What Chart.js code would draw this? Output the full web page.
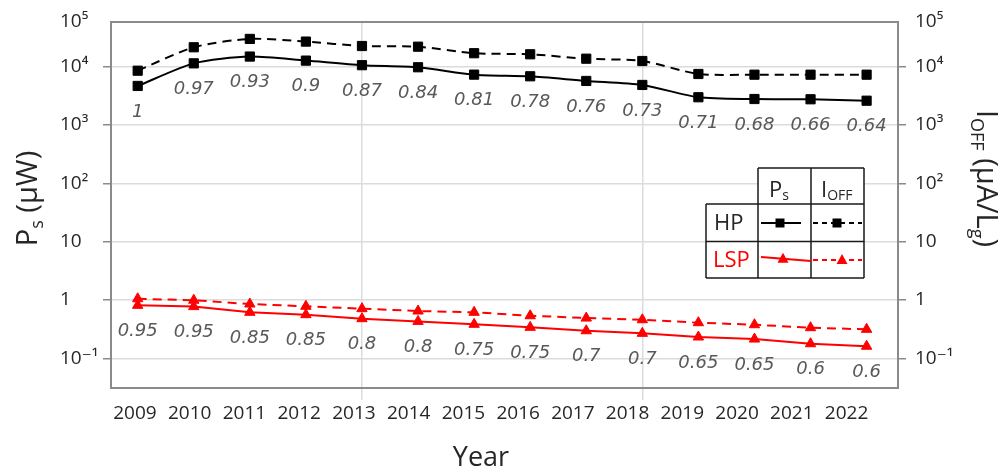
<!DOCTYPE html>
<html>
<head>
<meta charset="utf-8">
<script src="https://cdn.jsdelivr.net/npm/chart.js@4.4.1/dist/chart.umd.min.js"></script>
<style>body{margin:0;background:#fff}</style>
</head>
<body>
<canvas id="c" width="1000" height="474"></canvas>
<script>
const years = [2009, 2010, 2011, 2012, 2013, 2014, 2015, 2016, 2017, 2018, 2019, 2020, 2021, 2022]
const hpPs = [4670, 11400, 14900, 12700, 10600, 9770, 7300, 6840, 5690, 4860, 2990, 2790, 2760, 2610]
const hpIoff = [8530, 21500, 29900, 26900, 22600, 22000, 17000, 16300, 13700, 12500, 7490, 7290, 7290, 7290]
const lspPs = [0.81, 0.77, 0.615, 0.56, 0.478, 0.43, 0.383, 0.34, 0.297, 0.268, 0.232, 0.214, 0.178, 0.161]
const lspIoff = [1.05, 0.99, 0.853, 0.78, 0.71, 0.647, 0.615, 0.537, 0.49, 0.459, 0.408, 0.377, 0.335, 0.314]
const hpVdd = ['1', '0.97', '0.93', '0.9', '0.87', '0.84', '0.81', '0.78', '0.76', '0.73', '0.71', '0.68', '0.66', '0.64']
const lspVdd = ['0.95', '0.95', '0.85', '0.85', '0.8', '0.8', '0.75', '0.75', '0.7', '0.7', '0.65', '0.65', '0.6', '0.6']
const yTicks = [0.1, 1, 10, 100, 1000, 10000]
const yTickLabels = ['10⁻¹', '1', '10', '10²', '10³', '10⁴', '10⁵']

const yMin = 0.031, yMax = 58300
const gray = '#8a8a8a', grid = '#dcdcdc', txt = '#262626', red = '#ff0000'
const F = 'Open Sans, DejaVu Sans, sans-serif'

const pts = a => a.map((v, i) => ({x: i, y: v}))

// draws runs of text (with sub/superscripts) along a baseline
const runs = (ctx, list, align) => {
	const w = list.reduce((a, r) => { ctx.font = r.f; return a + ctx.measureText(r.t).width }, 0)
	let x = align == 'center' ? -w / 2 : 0
	list.forEach(r => { ctx.font = r.f; ctx.fillText(r.t, x, r.dy || 0); x += ctx.measureText(r.t).width })
}

const mark = (ctx, style, x, y, c) => {
	ctx.fillStyle = c
	ctx.beginPath()
	if (style == 'rect') ctx.rect(x - 4.5, y - 4.5, 9, 9)
	else { ctx.moveTo(x, y - 6); ctx.lineTo(x + 5.5, y + 4); ctx.lineTo(x - 5.5, y + 4); ctx.closePath() }
	ctx.fill()
}

const extras = {
	id: 'extras',
	beforeDatasetsDraw(chart) {
		const {ctx, chartArea: a} = chart
		ctx.save()
		ctx.strokeStyle = gray; ctx.lineWidth = 2
		ctx.strokeRect(a.left, a.top, a.right - a.left, a.bottom - a.top)
		ctx.restore()
	},
	afterDatasetsDraw(chart) {
		const {ctx} = chart
		ctx.save()
		// Vdd labels under the Ps points
		ctx.font = 'italic 18px DejaVu Sans'
		ctx.fillStyle = '#595959'
		ctx.textAlign = 'center'; ctx.textBaseline = 'middle'
		;[[0, hpVdd], [2, lspVdd]].forEach(([d, lab]) => {
			chart.getDatasetMeta(d).data.forEach((p, i) => ctx.fillText(lab[i], p.x, p.y + 26))
		})

		// legend table
		ctx.fillStyle = '#fff'
		ctx.fillRect(758, 168, 106, 36)
		ctx.fillRect(706, 204, 158, 74)
		ctx.strokeStyle = '#1a1a1a'; ctx.lineWidth = 1.5
		ctx.beginPath()
		;[[758, 168, 864, 168], [706, 204, 864, 204], [706, 241.5, 864, 241.5], [706, 278, 864, 278],
		 [706, 204, 706, 278], [758, 168, 758, 278], [811, 168, 811, 278], [864, 168, 864, 278]]
			.forEach(([x1, y1, x2, y2]) => { ctx.moveTo(x1, y1); ctx.lineTo(x2, y2) })
		ctx.stroke()

		ctx.textAlign = 'left'; ctx.textBaseline = 'alphabetic'
		ctx.fillStyle = txt
		ctx.save(); ctx.translate(769, 197)
		runs(ctx, [{t: 'P', f: `22px ${F}`}, {t: 's', f: `14px ${F}`, dy: 3}])
		ctx.restore()
		ctx.save(); ctx.translate(821, 197)
		runs(ctx, [{t: 'I', f: `22px ${F}`}, {t: 'OFF', f: `14px ${F}`, dy: 3}])
		ctx.restore()
		ctx.font = `22px ${F}`
		ctx.textBaseline = 'middle'
		ctx.fillText('HP', 714, 224)
		ctx.fillStyle = red
		ctx.fillText('LSP', 713, 261)

		const sample = (x1, x2, y1, y2, mx, ds) => {
			const o = chart.data.datasets[ds]
			ctx.strokeStyle = o.borderColor; ctx.lineWidth = 2
			ctx.setLineDash(o.borderDash ? [5, 4] : [])
			ctx.beginPath(); ctx.moveTo(x1, y1); ctx.lineTo(x2, y2); ctx.stroke()
			ctx.setLineDash([])
			mark(ctx, o.pointStyle, mx, y1 + (y2 - y1) * (mx - x1) / (x2 - x1), o.borderColor)
		}
		sample(761, 801, 223, 223, 780, 0)
		sample(813, 862, 223, 223, 837, 1)
		sample(761, 811, 257, 261, 783, 2)
		sample(813, 862, 260, 260, 842, 3)

		// axis titles
		ctx.fillStyle = txt
		ctx.textBaseline = 'alphabetic'
		ctx.save(); ctx.translate(37, 198.5); ctx.rotate(-Math.PI / 2)
		runs(ctx, [{t: 'P', f: `29px ${F}`}, {t: 's', f: `18px ${F}`, dy: 6}, {t: ' (μW)', f: `29px ${F}`}], 'center')
		ctx.restore()
		ctx.save(); ctx.translate(977, 178.5); ctx.rotate(Math.PI / 2)
		runs(ctx, [{t: 'I', f: `29px ${F}`}, {t: 'OFF', f: `18px ${F}`, dy: 6}, {t: ' (μA/L', f: `29px ${F}`},
			{t: 'g', f: `18px ${F}`, dy: 6}, {t: ')', f: `29px ${F}`}], 'center')
		ctx.restore()
		ctx.textAlign = 'center'
		ctx.font = `27px ${F}`
		ctx.fillText('Year', 481, 466)
		ctx.restore()
	}
}

const yAxis = (pos, w) => ({
	type: 'logarithmic',
	position: pos,
	min: yMin, max: yMax,
	afterBuildTicks: s => { s.ticks = [...yTicks, yMax].map(v => ({value: v})) },
	afterFit: s => { s.width = w },
	ticks: {
		color: txt, font: {family: F, size: 19}, padding: 9, crossAlign: pos == 'left' ? 'far' : 'near',
		callback: (v, i) => yTickLabels[i]
	},
	grid: {
		display: true, drawOnChartArea: pos == 'left', color: c => c.tick && c.tick.value == yMax ? 'rgba(0,0,0,0)' : grid,
		lineWidth: 1.5, tickLength: 8,
		tickColor: c => c.tick && c.tick.value == yMax ? 'rgba(0,0,0,0)' : gray, tickWidth: 1.5
	},
	border: {display: true, color: gray, width: 2}
})

new Chart(document.getElementById('c'), {
	type: 'line',
	data: {
		datasets: [
			{data: pts(hpPs), borderColor: '#000', backgroundColor: '#000', borderWidth: 2, pointStyle: 'rect', pointRadius: 6.5, borderWidth: 2, pointBorderWidth: 1, tension: 0.25},
			{data: pts(hpIoff), borderColor: '#000', backgroundColor: '#000', borderWidth: 2, borderDash: [9, 6], pointStyle: 'rect', pointRadius: 6.5, pointBorderWidth: 1, tension: 0.25},
			{data: pts(lspPs), borderColor: red, backgroundColor: red, borderWidth: 2, pointStyle: 'triangle', pointRadius: 6, pointBorderWidth: 1, tension: 0},
			{data: pts(lspIoff), borderColor: red, backgroundColor: red, borderWidth: 2, borderDash: [9, 6], pointStyle: 'triangle', pointRadius: 6, pointBorderWidth: 1, tension: 0},
		]
	},
	options: {
		responsive: false,
		animation: false,
		layout: {padding: {left: 60, right: 0, top: 22, bottom: 0}},
		plugins: {legend: {display: false}, tooltip: {enabled: false}},
		scales: {
			x: {
				type: 'linear', position: 'bottom', weight: 0,
				min: -0.476, max: 13.56,
				afterBuildTicks: s => { s.ticks = years.map((v, i) => ({value: i})) },
				afterFit: s => { s.height = 0 },
				ticks: {display: false},
				grid: {
					color: c => c.tick && (c.tick.value == 4 || c.tick.value == 9) ? grid : 'rgba(0,0,0,0)',
					lineWidth: 1.5, tickLength: 12
				},
				border: {display: true, color: gray, width: 2}
			},
			xl: {
				type: 'linear', position: 'bottom', weight: 1,
				min: -0.438, max: 13.94,
				afterBuildTicks: s => { s.ticks = years.map((v, i) => ({value: i})) },
				afterFit: s => { s.height = 86 },
				ticks: {autoSkip: false, maxRotation: 0, padding: 14, color: txt, font: {family: F, size: 19}, callback: v => years[v]},
				grid: {display: false, drawTicks: false},
				border: {display: false}
			},
			y: yAxis('left', 51),
			y2: yAxis('right', 102)
		}
	},
	plugins: [extras]
})
</script>
</body>
</html>
